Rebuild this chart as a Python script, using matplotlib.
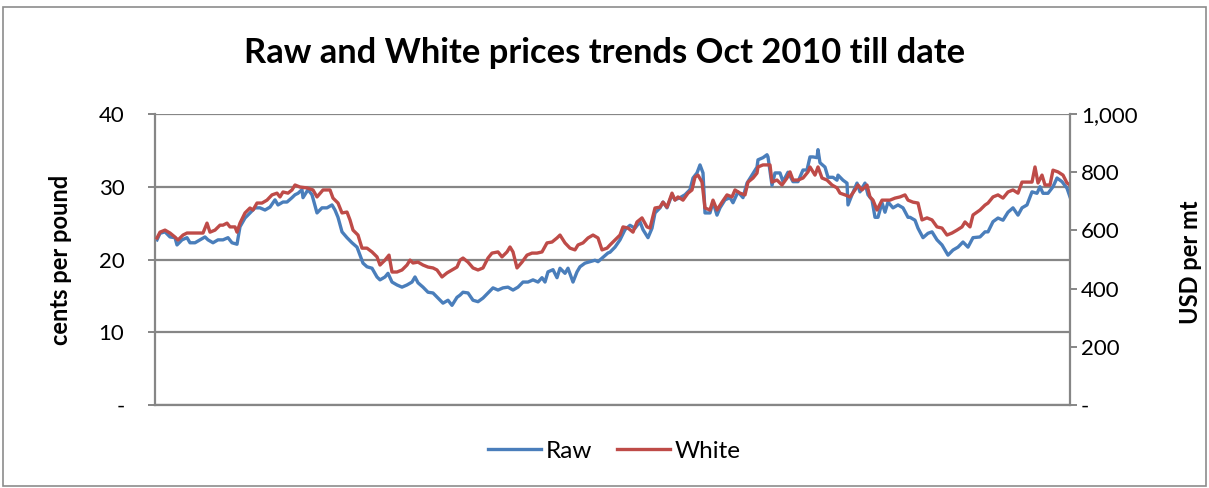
import matplotlib
matplotlib.use("Agg")
import matplotlib.pyplot as plt
from matplotlib.patches import Rectangle
from matplotlib.ticker import FixedLocator, FixedFormatter

# ---- data (days since start of Oct 2010) ----
raw_days = [2, 5, 10, 15, 20, 22, 27, 32, 35, 40, 45, 50, 53, 58, 63, 68, 73, 77, 82, 85,
            90, 95, 100, 105, 110, 115, 120, 123, 128, 132, 137, 140, 143, 147, 148, 153,
            157, 162, 167, 172, 177, 180, 183, 187, 192, 197, 202, 205, 208, 212, 217, 222,
            225, 230, 233, 237, 242, 247, 252, 257, 260, 263, 268, 273, 278, 283, 288, 293,
            297, 302, 305, 308, 313, 318, 323, 328, 333, 338, 343, 348, 353, 358, 363, 368,
            373, 378, 383, 387, 390, 393, 398, 402, 405, 410, 413, 418, 422, 425, 430, 435,
            440, 443, 448, 453, 455, 460, 465, 470, 475, 480, 485, 488, 493, 497, 500, 505,
            508, 512, 517, 520, 525, 530, 535, 538, 542, 545, 548, 550, 555, 558, 562, 565,
            570, 575, 578, 583, 588, 592, 597, 602, 603, 608, 612, 613, 617, 620, 625, 628,
            633, 638, 643, 648, 652, 655, 658, 662, 663, 665, 670, 673, 678, 682, 683, 688,
            692, 693, 697, 702, 705, 710, 713, 717, 720, 723, 727, 730, 733, 738, 743, 748,
            753, 755, 760, 763, 768, 773, 777, 782, 787, 793, 798, 803, 808, 813, 818, 825,
            830, 833, 838, 843, 848, 853, 858, 863, 867, 872, 877, 882, 885, 888, 893, 898,
            902, 907, 912, 915]
raw_cents = [22.7, 23.6, 23.8, 23.1, 23.0, 22.0, 22.7, 23.0, 22.3, 22.3, 22.7, 23.1, 22.7,
             22.3, 22.7, 22.7, 23.0, 22.3, 22.1, 24.5, 25.7, 26.4, 27.1, 27.1, 26.8, 27.2,
             28.2, 27.5, 27.9, 27.9, 28.5, 28.9, 29.1, 29.6, 28.5, 29.6,
             28.9, 26.4, 27.1, 27.1, 27.5, 26.8, 25.8, 23.8, 23.0, 22.3, 21.7, 20.6, 19.5,
             19.0, 18.8, 17.6, 17.2, 17.6, 18.1, 16.9, 16.5, 16.2, 16.5, 16.9, 17.6, 16.8,
             16.2, 15.5, 15.4, 14.7, 14.0, 14.4, 13.7, 14.8,
             15.1, 15.5, 15.4, 14.4, 14.2, 14.7, 15.4, 16.1, 15.8, 16.1, 16.2, 15.8, 16.2,
             16.9, 16.9, 17.2, 16.9, 17.5, 16.9, 18.3, 18.6, 17.5, 18.8, 18.1, 18.8, 16.9,
             18.3, 19.0, 19.5, 19.7, 19.9, 19.7, 20.3, 20.9,
             21.0, 21.7, 22.7, 24.1, 24.7, 24.3, 25.2, 24.1, 23.0, 24.3, 26.4, 27.1, 27.9,
             27.1, 28.9, 28.2, 28.5, 28.9, 29.6, 31.2, 31.9, 33.0, 31.9, 26.4, 26.4, 27.9,
             26.1, 27.1, 28.2, 28.5, 27.8, 29.3, 28.5, 30.5, 31.6, 32.7,
             33.7, 34.0, 34.4, 34.1, 30.2, 31.9, 31.9, 30.7, 32.0, 30.7, 30.7, 32.3, 32.3,
             34.1, 34.1, 34.0, 35.1, 33.3, 32.7, 31.3, 31.3, 30.9, 31.6, 30.9, 30.5, 27.5,
             28.9, 30.5, 29.3, 30.5, 28.9, 28.2, 25.8, 25.8, 27.8, 26.5, 27.9, 27.1, 27.5,
             27.1, 25.8,
             25.8, 25.4, 24.3, 23.0, 23.6, 23.8, 22.7, 22.0, 20.6, 21.3, 21.7, 22.4, 21.7,
             23.0, 23.1, 23.8, 23.8, 25.2, 25.7, 25.4, 26.5, 27.1, 26.1, 27.1, 27.5, 29.3,
             29.1, 30.0, 29.1, 29.1, 30.0, 31.2, 30.7, 29.8, 28.6]

white_days = [2, 5, 10, 15, 20, 23, 28, 32, 45, 48, 52, 55, 60, 65, 68, 72, 75, 80, 82, 85,
              90, 95, 98, 102, 107, 112, 117, 122, 125, 128, 133, 137, 140, 145, 152,
              158, 162, 168, 175, 178, 183, 187, 192, 195, 198, 203, 207, 212, 217, 222,
              225, 230, 234, 237, 242, 247, 252, 255, 258, 263, 268, 273, 278, 282, 287,
              292, 297, 302, 305, 308, 313, 318, 323, 328, 333, 337, 343, 347, 352, 355,
              358, 362, 367, 372, 377, 382, 387, 392, 397, 402, 405, 410, 415, 420, 423,
              428, 433, 438, 443, 447, 452, 455, 460, 465, 468, 473, 478, 482, 487, 492,
              495, 500, 505, 508, 512, 517, 520, 523, 528, 533, 537, 540, 543, 547, 550,
              555, 558, 562, 567, 572, 577, 580, 585, 590, 593, 598, 602, 603, 608, 615,
              617, 622, 627, 632, 635, 638, 643, 648, 653, 655, 660, 663, 667, 672, 677,
              682, 685, 690, 695, 700, 703, 707, 712, 715, 718, 722, 727, 732, 735, 740,
              745, 750, 753, 758, 763, 767, 772, 777, 782, 787, 792, 797, 802, 807, 810,
              815, 818, 825, 830, 833, 838, 843, 848, 853, 858, 863, 867, 872, 877, 880,
              883, 887, 890, 895, 898, 903, 908, 912, 915]
white_usd = [574, 594, 601, 591, 577, 567, 584, 591, 591, 591, 625, 594, 601, 618, 618, 625,
             612, 612, 594, 625, 660, 677, 670, 694, 694, 704, 722, 728, 715, 732, 728, 739,
             756, 749, 746,
             739, 715, 739, 739, 711, 694, 660, 663, 636, 601, 584, 539, 539, 526, 509, 481,
             498, 515, 457, 457, 464, 481, 498, 488, 491, 481, 474, 471, 464, 440, 454, 464,
             474,
             498, 505, 491, 471, 464, 471, 505, 522, 526, 509, 526, 543, 526, 471, 491, 515,
             522, 522, 526, 557, 560, 574, 584, 557, 539, 533, 550, 557, 574, 584, 574, 533,
             539,
             550, 567, 584, 612, 608, 594, 629, 643, 612, 608, 677, 680, 697, 680, 728, 704,
             715, 704, 728, 739, 783, 790, 766, 677, 670, 704, 670, 697, 722, 715, 739, 728,
             722, 766, 780, 797,
             818, 825, 825, 766, 773, 756, 780, 801, 773, 773, 780, 801, 818, 790, 818, 780,
             773, 756, 746, 728, 722, 715, 739, 756, 739, 756, 715, 704, 670, 704, 704, 704,
             711, 715, 722, 704,
             697, 694, 636, 643, 636, 612, 608, 584, 591, 601, 612, 629, 612, 653, 670, 687,
             694, 715, 722, 711, 732, 739, 728, 766, 766, 766, 818, 763, 790, 756, 756, 807,
             801, 790, 763, 756]

left_ticks = [0, 10, 20, 30, 40]
left_labels = ["-", "10", "20", "30", "40"]
right_ticks = [0, 200, 400, 600, 800, 1000]
right_labels = ["-", "200", "400", "600", "800", "1,000"]

title = "Raw and White prices trends Oct 2010 till date"
series_names = ["Raw", "White"]
left_axis_label = "cents per pound"
right_axis_label = "USD per mt"

BLUE = "#4A7EBB"
RED = "#BE4B48"
GRID = "#868686"
FONT = "Lato"

W, H = 1209, 488
fig = plt.figure(figsize=(W / 100, H / 100), dpi=100)
fig.patches.append(Rectangle((3 / W, 2 / H), 1 - 6 / W, 1 - 9 / H, transform=fig.transFigure,
                             fill=False, edgecolor="#8c8c8c", linewidth=1.2))

ax = fig.add_axes([155 / W, 1 - 405 / H, (1070 - 155) / W, (405 - 114) / H])
ax2 = ax.twinx()

ax.set_xlim(0, 915)
ax.set_ylim(0, 40)
ax2.set_ylim(0, 1000)

ax.yaxis.set_major_locator(FixedLocator(left_ticks))
ax.yaxis.set_major_formatter(FixedFormatter(left_labels))
ax2.yaxis.set_major_locator(FixedLocator(right_ticks))
ax2.yaxis.set_major_formatter(FixedFormatter(right_labels))
ax.set_xticks([])

ax.grid(axis="y", color=GRID, linewidth=1.6)
ax.set_axisbelow(True)

for a in (ax, ax2):
    for s in a.spines.values():
        s.set_visible(False)
for a, side in ((ax, "left"), (ax, "bottom"), (ax2, "right")):
    a.spines[side].set_visible(True)
    a.spines[side].set_color(GRID)
    a.spines[side].set_linewidth(1.6)

ax.tick_params(axis="y", direction="out", length=5, width=1.4, color=GRID,
               labelsize=16, pad=17)
ax2.tick_params(axis="y", direction="out", length=5, width=1.4, color=GRID,
                labelsize=16, pad=3)
for lab in ax.get_yticklabels() + ax2.get_yticklabels():
    lab.set_fontfamily(FONT)

l1, = ax.plot(raw_days, raw_cents, color=BLUE, linewidth=2.4, label=series_names[0],
              solid_joinstyle="round")
l2, = ax2.plot(white_days, white_usd, color=RED, linewidth=2.4, label=series_names[1],
               solid_joinstyle="round")

fig.text(60 / W, 1 - 260 / H, left_axis_label, rotation=90, ha="center", va="center",
         fontsize=17, fontweight="bold", family=FONT)
fig.text(1190 / W, 1 - 262 / H, right_axis_label, rotation=90, ha="center", va="center",
         fontsize=17, fontweight="bold", family=FONT)

fig.text(0.5, 1 - 53 / H, title, ha="center", va="center", fontsize=24.8,
         fontweight="bold", family=FONT)

fig.legend([l1, l2], series_names, loc="center", bbox_to_anchor=(0.508, 1 - 451 / H),
           ncol=2, frameon=False, prop={"family": FONT, "size": 17.5},
           handlelength=2.2, handletextpad=0.18, columnspacing=1.0)

fig.savefig("out.png", dpi=100)
